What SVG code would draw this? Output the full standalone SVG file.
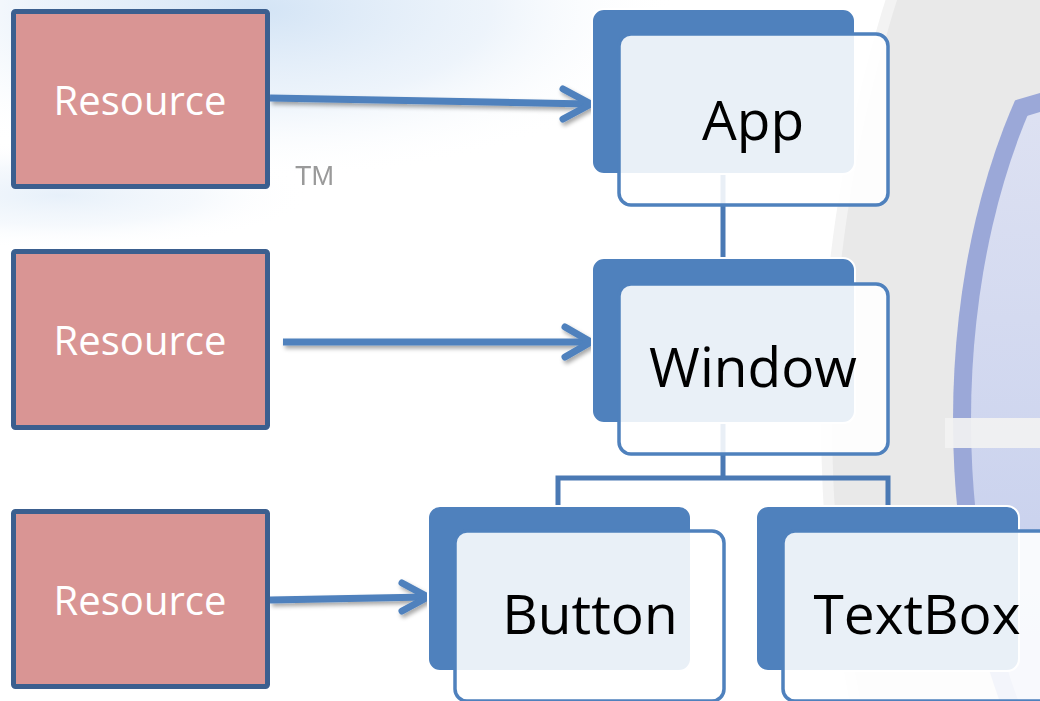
<svg xmlns="http://www.w3.org/2000/svg" width="1040" height="701" viewBox="0 0 1040 701">
<style>
.res rect{fill:#d99594;stroke:#3b5f8f;stroke-width:5}
.res text{fill:#ffffff;font-family:"Open Sans","Liberation Sans",sans-serif;font-size:40px;text-anchor:middle}
.back{fill:#4f81bd;stroke:#ffffff;stroke-width:2}
.front{fill:#ffffff;fill-opacity:0.88;stroke:#4f81bd;stroke-width:3.5}
.lbl{fill:#000000;font-family:"Open Sans","Liberation Sans",sans-serif;font-size:55px;text-anchor:middle}
.tree{fill:none;stroke:#4a79b4;stroke-width:5}
.arr{fill:none;stroke:#4f81bd;stroke-width:7;stroke-linejoin:round}
.head{stroke-linecap:round}
</style>
<defs>
<filter id="sh" x="-10%" y="-50%" width="120%" height="200%">
<feDropShadow dx="2" dy="3" stdDeviation="2" flood-color="#000" flood-opacity="0.35"/>
</filter>
<filter id="blur1"><feGaussianBlur stdDeviation="0.6"/></filter>
<radialGradient id="swirl" cx="0.5" cy="0.5" r="0.5">
<stop offset="0" stop-color="#c8ddf3" stop-opacity="0.8"/>
<stop offset="0.55" stop-color="#dce9f7" stop-opacity="0.5"/>
<stop offset="1" stop-color="#ffffff" stop-opacity="0"/>
</radialGradient>
<linearGradient id="inner" x1="0" y1="0" x2="0" y2="1">
<stop offset="0" stop-color="#e6e8f4"/>
<stop offset="1" stop-color="#b9c5ea"/>
</linearGradient>
<clipPath id="ringClip"><polygon points="900,133.6 1040,93 1040,701 900,701"/></clipPath>
<clipPath id="innerClip"><polygon points="900,154 1040,112 1040,701 900,701"/></clipPath>
</defs>
<g id="background">
<rect x="0" y="0" width="1040" height="701" fill="#ffffff"/>
<ellipse cx="260" cy="10" rx="420" ry="170" fill="url(#swirl)"/>
<ellipse cx="60" cy="195" rx="250" ry="55" fill="url(#swirl)" opacity="0.55"/>
<circle cx="2221" cy="420" r="1400" fill="#f3f3f3"/>
<circle cx="2221" cy="420" r="1389" fill="#e9e9e9"/>
<ellipse cx="1253" cy="420" rx="300" ry="525" fill="#9ba8d8" clip-path="url(#ringClip)"/>
<ellipse cx="1253" cy="420" rx="282" ry="507" fill="url(#inner)" clip-path="url(#innerClip)"/>
<rect x="945" y="418" width="95" height="30" fill="#f2f2f2" opacity="0.92"/>
<text x="295" y="185" font-family="Liberation Sans, sans-serif" font-size="27" fill="#9a9a9a" filter="url(#blur1)">TM</text>
</g>
<g id="connectors">
<path class="tree" d="M723,174 V258"/>
<path class="tree" d="M723,423 V478 M558,506 V478 H888 V506"/>
<g filter="url(#sh)">
<path class="arr" d="M270,98 L589,104"/>
<polyline class="arr head" points="563,89 591,104 563,119"/>
<path class="arr" d="M283,342 L589,342"/>
<polyline class="arr head" points="565,327 591,342 565,357"/>
<path class="arr" d="M270,600 L427,597"/>
<polyline class="arr head" points="402,583 428,597 402,611"/>
</g>
</g>
<g id="res1" class="res"><rect x="13.5" y="11.5" width="254" height="175" rx="2"/><text x="140" y="115">Resource</text></g>
<g id="res2" class="res"><rect x="13.5" y="251.5" width="254" height="176" rx="2"/><text x="140" y="355">Resource</text></g>
<g id="res3" class="res"><rect x="13.5" y="511.5" width="254" height="175" rx="2"/><text x="140" y="615">Resource</text></g>
<g id="app"><rect class="back" x="592" y="9" width="263" height="165" rx="12"/><rect class="front" x="619" y="34" width="269" height="171" rx="12"/><text class="lbl" x="753" y="140">App</text></g>
<g id="window"><rect class="back" x="592" y="258" width="263" height="165" rx="12"/><rect class="front" x="619" y="284" width="269" height="170" rx="12"/><text class="lbl" x="753" y="387">Window</text></g>
<g id="button"><rect class="back" x="428" y="506" width="263" height="165" rx="12"/><rect class="front" x="455" y="531" width="269" height="170" rx="12"/><text class="lbl" x="590" y="634">Button</text></g>
<g id="textbox"><rect class="back" x="756" y="506" width="263" height="165" rx="12"/><rect class="front" x="783" y="531" width="269" height="170" rx="12"/><text class="lbl" x="917" y="634">TextBox</text></g>
</svg>
